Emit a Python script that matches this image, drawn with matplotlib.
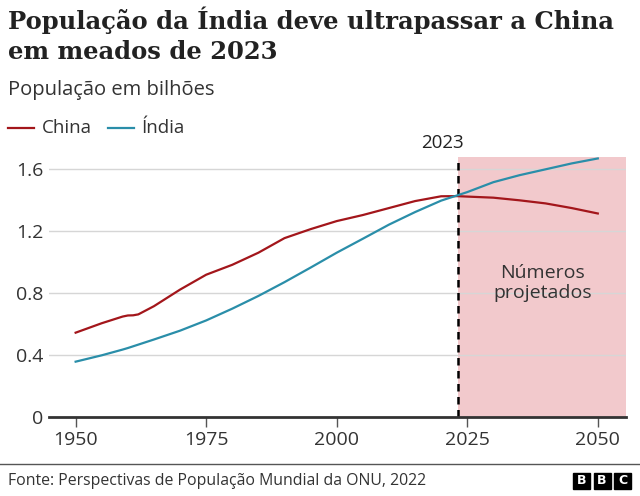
import matplotlib.pyplot as plt
from matplotlib.patches import Rectangle

# Dados (ONU, população em bilhões)
years = [1950, 1955, 1959, 1960, 1961, 1962, 1965, 1970, 1975, 1980, 1985, 1990, 1995,
         2000, 2005, 2010, 2015, 2020, 2023, 2025, 2030, 2035, 2040, 2045, 2050]
china = [0.544, 0.605, 0.648, 0.655, 0.656, 0.662, 0.715, 0.822, 0.918, 0.982, 1.060, 1.154, 1.212,
         1.264, 1.303, 1.348, 1.393, 1.424, 1.425, 1.422, 1.415, 1.398, 1.378, 1.348, 1.313]
india = [0.357, 0.398, 0.435, 0.445, 0.456, 0.467, 0.500, 0.557, 0.623, 0.699, 0.781, 0.870, 0.964,
         1.060, 1.150, 1.241, 1.322, 1.396, 1.429, 1.451, 1.515, 1.560, 1.598, 1.636, 1.668]
yticks = [0, 0.4, 0.8, 1.2, 1.6]
ytick_labels = ['0', '0.4', '0.8', '1.2', '1.6']
xticks = [1950, 1975, 2000, 2025, 2050]

red = '#a3161b'
teal = '#2a8ea9'
sans = 'Open Sans'

fig = plt.figure(figsize=(6.4, 4.96), dpi=100)
ax = fig.add_axes([49/640, 1 - 417/496, (626 - 49)/640, (417 - 156.6)/496])
ax.set_xlim(1944.9, 2055.4)
ax.set_ylim(0, 1.68)

# área projetada
ax.add_patch(Rectangle((2023.2, 0), 2055.4 - 2023.2, 1.68, color='#f2c9cc', zorder=0, lw=0))
ax.axvline(2023.2, color='black', lw=1.8, ls=(0, (3, 2.2)), zorder=3)

for y in yticks[1:]:
    ax.axhline(y, color='#d6d6d6', lw=1, zorder=1)

ax.plot(years, china, color=red, lw=1.6, zorder=4)
ax.plot(years, india, color=teal, lw=1.6, zorder=4)

for s in ['top', 'right', 'left']:
    ax.spines[s].set_visible(False)
ax.spines['bottom'].set_color('#333333')
ax.spines['bottom'].set_linewidth(2)
ax.spines['bottom'].set_zorder(5)

ax.set_yticks(yticks)
ax.set_yticklabels(ytick_labels, family=sans, fontsize=14, color='#333333')
ax.tick_params(axis='y', length=0, pad=4)
ax.set_xticks(xticks)
ax.set_xticklabels([str(x) for x in xticks], family=sans, fontsize=14, color='#333333')
ax.tick_params(axis='x', length=7, width=1, color='#555555', pad=3)

ax.text(2039.5, 0.865, 'Números\nprojetados', ha='center', va='center', family=sans,
        fontsize=14, color='#333333', linespacing=1.15)
ax.text(2020.2, 1.77, '2023', ha='center', va='center', family=sans, fontsize=13.5,
        color='#222222', clip_on=False)

# título e subtítulo
fig.text(8/640, 1 - 6/496, 'População da Índia deve ultrapassar a China\nem meados de 2023',
         ha='left', va='top', family='DejaVu Serif', fontweight='bold', fontsize=17.5,
         color='#222222', linespacing=1.32)
fig.text(8/640, 1 - 90/496, 'População em bilhões', ha='left', va='center', family=sans,
         fontsize=14.5, color='#333333')

# legenda
fig.add_artist(plt.Line2D([8/640, 34/640], [1 - 128/496] * 2, color=red, lw=1.6))
fig.text(42/640, 1 - 128/496, 'China', ha='left', va='center', family=sans, fontsize=13.5, color='#333333')
fig.add_artist(plt.Line2D([108/640, 134/640], [1 - 128/496] * 2, color=teal, lw=1.6))
fig.text(141/640, 1 - 128/496, 'Índia', ha='left', va='center', family=sans, fontsize=13.5, color='#333333')

# rodapé
fig.add_artist(plt.Line2D([0, 1], [1 - 464/496] * 2, color='#555555', lw=1))
fig.text(8/640, 1 - 481/496, 'Fonte: Perspectivas de População Mundial da ONU, 2022', ha='left',
         va='center', family=sans, fontsize=11.4, color='#333333')
for i, letter in enumerate('BBC'):
    x0 = 573 + i * 20.5
    fig.add_artist(Rectangle((x0/640, 1 - 489/496), 17/640, 16/496, color='black'))
    fig.text((x0 + 8.5)/640, 1 - 481/496, letter, ha='center', va='center', color='white',
             fontsize=9, fontweight='bold', family='DejaVu Sans')

fig.savefig('out.png', dpi=100)
